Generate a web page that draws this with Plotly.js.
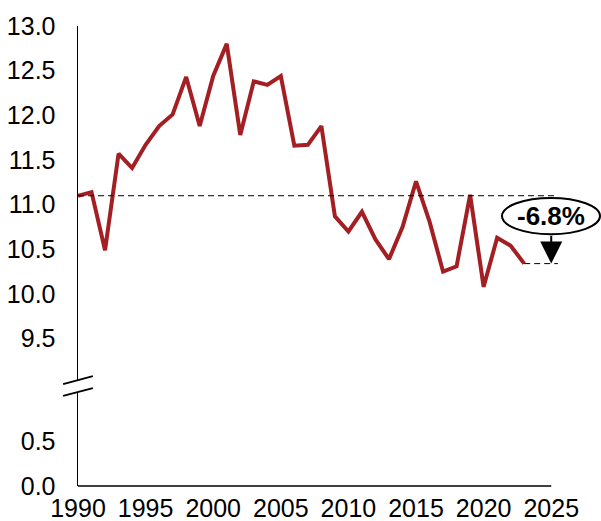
<!DOCTYPE html>
<html>
<head>
<meta charset="utf-8">
<script src="https://cdn.plot.ly/plotly-3.0.1.min.js"></script>
<style>
  html, body { margin: 0; padding: 0; background: #fff; }
  #chart { width: 601px; height: 521px; }
</style>
</head>
<body>
<div id="chart"></div>
<script>
// yearly values
const years = [1990, 1991, 1992, 1993, 1994, 1995, 1996, 1997, 1998, 1999,
               2000, 2001, 2002, 2003, 2004, 2005, 2006, 2007, 2008, 2009,
               2010, 2011, 2012, 2013, 2014, 2015, 2016, 2017, 2018, 2019,
               2020, 2021, 2022, 2023];
const values = [11.10, 11.14, 10.49, 11.57, 11.41, 11.67, 11.88, 12.01, 12.43, 11.88,
                12.44, 12.80, 11.78, 12.38, 12.34, 12.44, 11.66, 11.67, 11.88, 10.87,
                10.70, 10.92, 10.61, 10.39, 10.75, 11.26, 10.81, 10.25, 10.31, 11.11,
                10.08, 10.63, 10.54, 10.34];

const xTicks = [1990, 1995, 2000, 2005, 2010, 2015, 2020, 2025];
const yTopTicks = [9.5, 10.0, 10.5, 11.0, 11.5, 12.0, 12.5, 13.0];
const yLowTicks = [0.0, 0.5];

const first = values[0];
const last = values[values.length - 1];
const lastYear = years[years.length - 1];
const pct = ((last / first - 1) * 100).toFixed(1) + '%';

const FONT = 'Liberation Sans, Arial, sans-serif';
const RED = '#A31F24';

const line = {
    x: years,
    y: values,
    xaxis: 'x',
    yaxis: 'y2',
    mode: 'lines',
    line: { color: RED, width: 4 },
    hoverinfo: 'x+y'
};

// empty trace so the lower (0 - 1) part of the broken axis gets drawn
const lowerPart = { x: [], y: [], xaxis: 'x', yaxis: 'y', mode: 'lines', hoverinfo: 'skip' };

// the visible axis line stops at 2025, the range runs a bit further
// so the dashed guides can poke past it like in the original
const layout = {
    width: 601,
    height: 521,
    margin: { l: 78, r: 43, t: 26, b: 35 },
    paper_bgcolor: '#fff',
    plot_bgcolor: '#fff',
    showlegend: false,
    font: { family: FONT, size: 25, color: '#000' },
    xaxis: {
        range: [1990, 2025.5],
        tickvals: xTicks,
        ticktext: xTicks.map(String),
        showline: false,
        showgrid: false,
        zeroline: false,
        ticks: '',
        ticklabelstandoff: 5,
        anchor: 'y'
    },
    yaxis: {
        domain: [0, 0.2043],
        range: [0, 1.052],
        tickvals: yLowTicks,
        ticktext: yLowTicks.map(v => v.toFixed(1)),
        showline: true,
        linecolor: '#000',
        linewidth: 1.5,
        showgrid: false,
        zeroline: false,
        ticks: '',
        ticklabelstandoff: 16,
        anchor: 'x'
    },
    yaxis2: {
        domain: [0.2304, 1],
        range: [9.037, 13],
        tickvals: yTopTicks,
        ticktext: yTopTicks.map(v => v.toFixed(1)),
        showline: true,
        linecolor: '#000',
        linewidth: 1.5,
        showgrid: false,
        zeroline: false,
        ticks: '',
        ticklabelstandoff: 16,
        anchor: 'x'
    },
    shapes: [
        // x axis line
        { type: 'line', xref: 'x', yref: 'paper', x0: 1990, x1: 2025, y0: 0, y1: 0,
          line: { color: '#000', width: 1.5 } },
        // axis break marks
        { type: 'line', xref: 'paper', yref: 'paper', x0: -0.031, x1: 0.031, y0: 0.2217, y1: 0.2391,
          line: { color: '#000', width: 1.8 } },
        { type: 'line', xref: 'paper', yref: 'paper', x0: -0.031, x1: 0.031, y0: 0.1957, y1: 0.2130,
          line: { color: '#000', width: 1.8 } },
        // dashed guides at first and last value
        { type: 'line', xref: 'x', yref: 'y2', x0: years[0], x1: 2025.5, y0: first, y1: first,
          line: { color: '#000', width: 1, dash: '6px,4px' } },
        { type: 'line', xref: 'x', yref: 'y2', x0: lastYear, x1: 2025.5, y0: last, y1: last,
          line: { color: '#000', width: 1, dash: '6px,4px' } },
        // ellipse around the change label
        { type: 'circle', xref: 'paper', yref: 'y2', x0: 0.8833, x1: 1.0875, y0: 10.67, y1: 11.075,
          fillcolor: '#fff', line: { color: '#000', width: 2 }, layer: 'above' }
    ],
    annotations: [
        { x: 2025, y: last, xref: 'x', yref: 'y2',
          ax: 2025, ay: 10.67, axref: 'x', ayref: 'y2',
          showarrow: true, arrowhead: 2, arrowsize: 2.2, arrowwidth: 2, arrowcolor: '#000',
          text: '' },
        { x: 2025, y: 10.873, xref: 'x', yref: 'y2', showarrow: false,
          text: '<b>' + pct + '</b>',
          font: { family: FONT, size: 26, color: '#000' } }
    ]
};

Plotly.newPlot('chart', [line, lowerPart], layout, { displayModeBar: false, staticPlot: true });
</script>
</body>
</html>
